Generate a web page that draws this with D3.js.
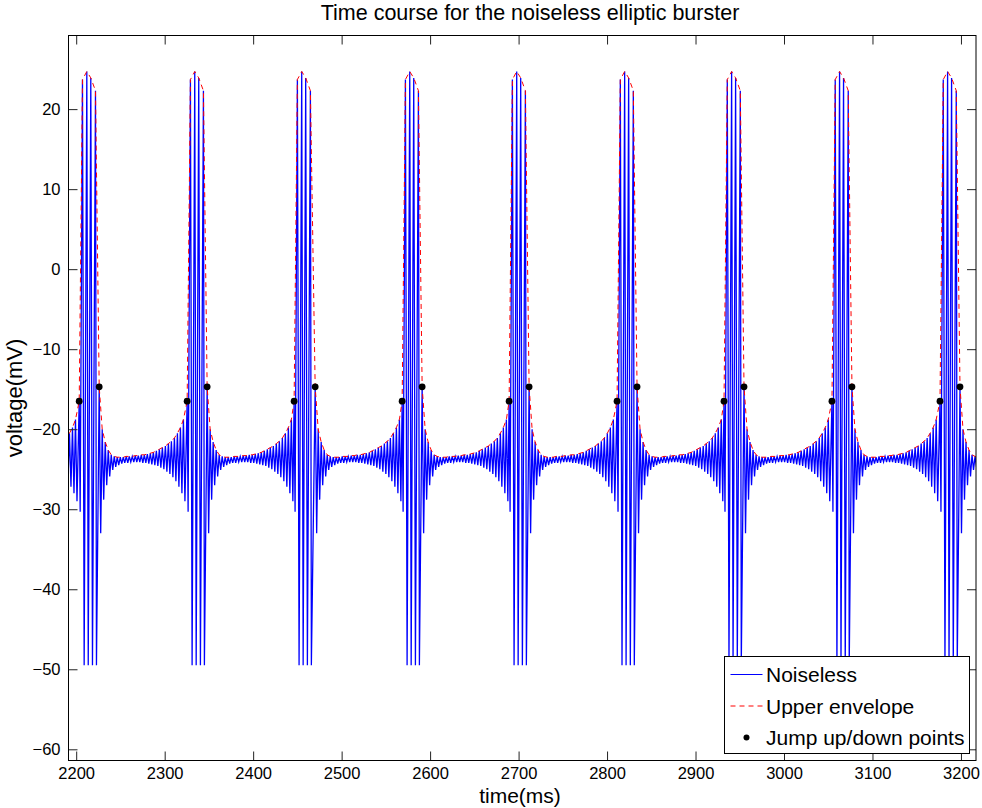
<!DOCTYPE html>
<html>
<head>
<meta charset="utf-8">
<script src="https://cdn.jsdelivr.net/npm/d3@7"></script>
<style>
  body { margin: 0; background: #fff; }
  svg { display: block; font-family: "Liberation Sans", Arial, Helvetica, sans-serif; }
</style>
</head>
<body>
<svg id="chart" width="982" height="808"></svg>
<script>
(function () {
  "use strict";

  // burst onsets (jump up) and ends (jump down), ms
  const jumpUpT = [2203.4, 2325.4, 2446.3, 2568.4, 2689.3, 2811.3, 2932.2, 3054.2, 3176.3];
  const jumpDownT = [2226.0, 2348.0, 2470.1, 2591.0, 2711.9, 2833.9, 2954.8, 3076.8, 3198.9];

  // one burst, times relative to its jump-up point
  const burstPeakT = [0, 3.7, 8.6, 13.1, 18.4];
  const burstPeakV = [-16.5, 23.7, 24.7, 23.9, 22.3];
  const burstTroughT = [1.1, 5.6, 10.2, 15.0, 19.5];
  const burstTroughV = [-30.3, -49.5, -49.5, -49.5, -49.5];

  // quiet phase, one small oscillation per entry, times relative to jump-down
  const quietT = [0, 3.4, 6.8, 10.2, 13.6, 17.0, 20.4, 23.8, 27.2, 30.6, 34.0, 37.4, 40.8, 44.2, 47.6,
    51.0, 54.4, 57.8, 61.2, 64.6, 68.0, 71.4, 74.8, 78.2, 81.6, 85.0, 88.4, 91.8, 95.2];
  const quietPeakV = [-14.7, -20.0, -21.6, -22.6, -23.2, -23.4, -23.5, -23.5, -23.5, -23.4, -23.4, -23.4, -23.3, -23.3, -23.2,
    -23.2, -23.1, -23.0, -22.9, -22.7, -22.5, -22.3, -22.1, -21.8, -21.5, -21.1, -20.5, -19.8, -18.8];
  const quietTroughV = [-33.0, -28.8, -27.0, -25.9, -25.1, -24.7, -24.5, -24.3, -24.2, -24.2, -24.1, -24.1, -24.1, -24.1, -24.2,
    -24.2, -24.3, -24.4, -24.5, -24.6, -24.8, -25.0, -25.3, -25.6, -26.0, -26.5, -27.2, -28.0, -29.0];
  const troughLag = 1.7;

  const xTicks = d3.range(2200, 3201, 100);
  const yTicks = d3.range(-60, 21, 10);
  const xDomain = [2191.3, 3217];
  const yDomain = [-61.4, 29.2];

  const svg = d3.select("#chart");
  const margin = { left: 68.5, right: 6, top: 35.5, bottom: 47.5 };
  const W = 982, H = 808;
  const x = d3.scaleLinear().domain(xDomain).range([margin.left, W - margin.right]);
  const y = d3.scaleLinear().domain(yDomain).range([H - margin.bottom, margin.top]);

  // build the signal and its peaks
  const signal = [];
  const peaks = [];

  function addQuiet(start, end) {
    for (let k = 0; k < quietT.length; k++) {
      const t = start + quietT[k];
      if (t > end - 1.5) break;
      signal.push([t, quietPeakV[k]]);
      peaks.push([t, quietPeakV[k]]);
      signal.push([t + troughLag, quietTroughV[k]]);
    }
  }

  const quietLen = jumpUpT[1] - jumpDownT[0];
  addQuiet(jumpUpT[0] - quietLen, jumpUpT[0]);
  jumpUpT.forEach((t0, i) => {
    burstPeakT.forEach((dt, j) => {
      signal.push([t0 + dt, burstPeakV[j]]);
      peaks.push([t0 + dt, burstPeakV[j]]);
      signal.push([t0 + burstTroughT[j], burstTroughV[j]]);
    });
    const next = i + 1 < jumpUpT.length ? jumpUpT[i + 1] : xDomain[1] + 4;
    addQuiet(jumpDownT[i], next);
  });

  svg.append("defs").append("clipPath").attr("id", "plot-clip")
    .append("rect")
    .attr("x", margin.left).attr("y", margin.top)
    .attr("width", W - margin.left - margin.right)
    .attr("height", H - margin.top - margin.bottom);

  const plot = svg.append("g").attr("clip-path", "url(#plot-clip)");
  const line = d3.line().x((d) => x(d[0])).y((d) => y(d[1]));

  plot.append("path")
    .datum(signal)
    .attr("fill", "none")
    .attr("stroke", "#0000ff")
    .attr("stroke-width", 1.3)
    .attr("d", line);

  plot.append("path")
    .datum(peaks)
    .attr("fill", "none")
    .attr("stroke", "#ff0000")
    .attr("stroke-width", 1)
    .attr("stroke-dasharray", "5,4")
    .attr("d", line);

  const jumps = [];
  jumpUpT.forEach((t, i) => {
    jumps.push([t, burstPeakV[0]]);
    jumps.push([jumpDownT[i], quietPeakV[0]]);
  });
  plot.selectAll("circle.jump").data(jumps).enter().append("circle")
    .attr("class", "jump")
    .attr("cx", (d) => x(d[0]))
    .attr("cy", (d) => y(d[1]))
    .attr("r", 3.4)
    .attr("fill", "#000");

  // axes, MATLAB style: ticks inside on all four sides
  const fmt = (d) => d3.format("d")(d).replace("-", "\u2212");
  const tick = 9;
  const gx = svg.append("g").attr("transform", `translate(0,${H - margin.bottom})`)
    .call(d3.axisBottom(x).tickValues(xTicks).tickFormat(fmt).tickSizeInner(-tick).tickSizeOuter(0).tickPadding(7));
  const gxt = svg.append("g").attr("transform", `translate(0,${margin.top})`)
    .call(d3.axisTop(x).tickValues(xTicks).tickFormat("").tickSizeInner(-tick).tickSizeOuter(0));
  const gy = svg.append("g").attr("transform", `translate(${margin.left},0)`)
    .call(d3.axisLeft(y).tickValues(yTicks).tickFormat(fmt).tickSizeInner(-tick).tickSizeOuter(0).tickPadding(8));
  const gyr = svg.append("g").attr("transform", `translate(${W - margin.right},0)`)
    .call(d3.axisRight(y).tickValues(yTicks).tickFormat("").tickSizeInner(-tick).tickSizeOuter(0));

  [gx, gxt, gy, gyr].forEach((g) => {
    g.select(".domain").remove();
    g.selectAll(".tick line").attr("stroke", "#222").attr("stroke-width", 1);
    g.selectAll(".tick text").attr("fill", "#000").attr("font-size", 16.5)
      .attr("font-family", "'Liberation Sans', Arial, sans-serif");
  });

  svg.append("rect")
    .attr("x", margin.left).attr("y", margin.top)
    .attr("width", W - margin.left - margin.right)
    .attr("height", H - margin.top - margin.bottom)
    .attr("fill", "none").attr("stroke", "#000").attr("stroke-width", 1);

  // titles
  svg.append("text")
    .attr("x", 530).attr("y", 20)
    .attr("text-anchor", "middle").attr("font-size", 21.5)
    .text("Time course for the noiseless elliptic burster");
  svg.append("text")
    .attr("x", 520).attr("y", 803)
    .attr("text-anchor", "middle").attr("font-size", 21)
    .text("time(ms)");
  svg.append("text")
    .attr("transform", `translate(22,${(margin.top + H - margin.bottom) / 2}) rotate(-90)`)
    .attr("text-anchor", "middle").attr("font-size", 22)
    .text("voltage(mV)");

  // legend
  const lg = svg.append("g").attr("transform", "translate(724.5,656.5)");
  lg.append("rect").attr("width", 245).attr("height", 97)
    .attr("fill", "#fff").attr("stroke", "#000").attr("stroke-width", 1);
  const items = ["Noiseless", "Upper envelope", "Jump up/down points"];
  items.forEach((name, i) => {
    const cy = 18 + i * 31.5;
    if (i === 0) {
      lg.append("line").attr("x1", 6).attr("x2", 38).attr("y1", cy).attr("y2", cy)
        .attr("stroke", "#0000ff").attr("stroke-width", 1);
    } else if (i === 1) {
      lg.append("line").attr("x1", 6).attr("x2", 38).attr("y1", cy).attr("y2", cy)
        .attr("stroke", "#ff0000").attr("stroke-width", 1).attr("stroke-dasharray", "5,4");
    } else {
      lg.append("circle").attr("cx", 22).attr("cy", cy).attr("r", 3).attr("fill", "#000");
    }
    lg.append("text").attr("x", 41.5).attr("y", cy + 7.5)
      .attr("font-size", 21).text(name);
  });
})();
</script>
</body>
</html>
